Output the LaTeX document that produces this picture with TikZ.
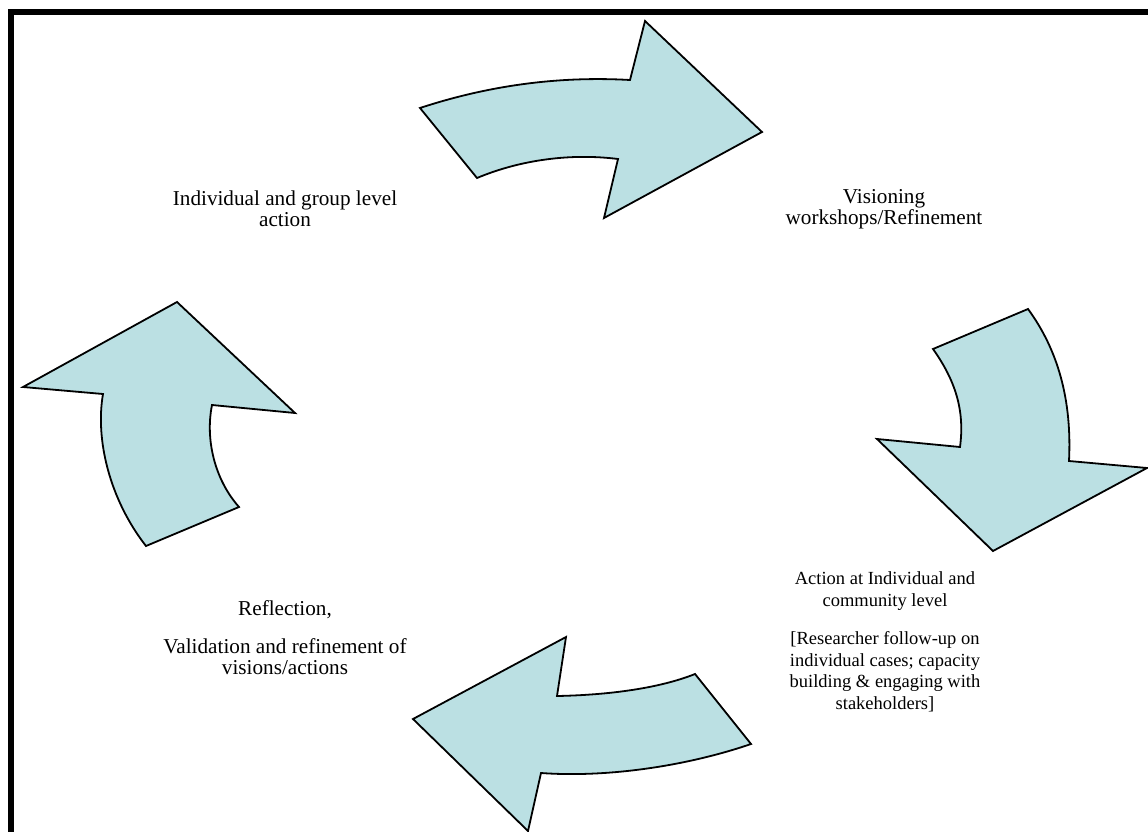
\documentclass[tikz,border=0pt]{standalone}
\usepackage{fontspec}
\setmainfont{Liberation Serif}
\usepackage{tikz}
\usepackage{xcolor}
\usetikzlibrary{positioning}
\definecolor{cycleblue}{RGB}{187,224,227}

\tikzset{
  cyclearrow/.style={draw=black, line width=1.8pt, fill=cycleblue, line join=miter},
  steplabel/.style={align=center, font=\fontsize{21.2}{21}\selectfont, inner sep=0pt},
  smalllabel/.style={align=center, font=\fontsize{18.5}{21.8}\selectfont, inner sep=0pt}
}

\begin{document}
\begin{tikzpicture}[x=1pt, y=-1pt]
      \useasboundingbox (0,0) rectangle (1148,832);
      \begin{scope}
        \clip (0,0) rectangle (1148,832);
        \draw[line width=6pt] (11,12) rectangle (1170,860);
      \end{scope}
      % the four arrows of the cycle
      \draw[cyclearrow] (420,108) .. controls (490,85) and (560,76) .. (630,80)
        -- (645,21) -- (762,132) -- (604,218) -- (618,159)
        .. controls (570,153) and (520,160) .. (477,178) -- cycle;
      \draw[cyclearrow] (933,349) -- (1028,309)
        .. controls (1058,350) and (1072,400) .. (1069,461)
        -- (1147,468) -- (993,551) -- (877,439) -- (960,447)
        .. controls (965,410) and (955,380) .. cycle;
      \draw[cyclearrow] (751,744) .. controls (690,765) and (610,778) .. (541,773)
        -- (528,831) -- (413,719) -- (566,637) -- (557,696)
        .. controls (610,695) and (660,688) .. (695,674) -- cycle;
      \draw[cyclearrow] (146,546) -- (239,507)
        .. controls (215,480) and (205,440) .. (212,405)
        -- (295,413) -- (177,302) -- (23,387) -- (103,394)
        .. controls (95,440) and (110,500) .. cycle;
      % labels
      \node[steplabel] (grouplevel) at (285,209) {Individual and group level\\action};
      \node[steplabel] (visioning) at (884,209) {Visioning\\workshops/Refinement};
      \node[smalllabel] (community) at (885,642) {Action at Individual and\\community level\\[16pt]
        [Researcher follow-up on\\individual cases; capacity\\building \& engaging with\\stakeholders]};
      \node[steplabel] (reflection) at (285,638) {Reflection,\\[17pt]Validation and refinement of\\visions/actions};
    \end{tikzpicture}
\end{document}
